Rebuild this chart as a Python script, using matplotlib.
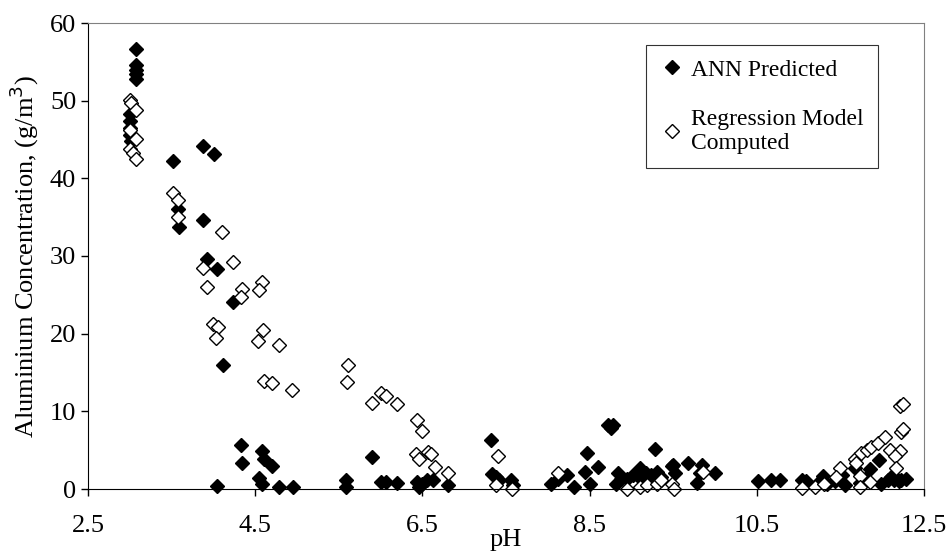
import numpy as np
import matplotlib
matplotlib.use("Agg")
import matplotlib.pyplot as plt

# ANN predicted (filled diamonds)
ann_ph = [3.08, 3.08, 3.08, 3.08, 3.08, 3.0, 3.0, 3.0, 3.0, 3.02,
          3.52, 3.87, 4.01, 3.58, 3.59, 3.87, 3.92, 4.04, 4.23, 4.11,
          4.33, 4.58, 4.34, 4.60, 4.70, 4.04, 4.55, 4.58, 4.78, 4.95,
          5.59, 5.59, 5.90, 6.01, 6.06, 6.20, 6.44, 6.46, 6.49, 6.56, 6.63, 6.81,
          7.32, 7.33, 7.38, 7.42, 7.56, 7.58,
          8.04, 8.12, 8.23, 8.31, 8.44, 8.47, 8.51, 8.60, 8.72, 8.78, 8.75,
          8.81, 8.84, 8.88, 8.95, 9.02, 9.10, 9.13, 9.10, 9.17, 9.24, 9.28, 9.31, 9.35,
          9.49, 9.52, 9.50, 9.68, 9.78, 9.82, 9.84, 10.0,
          10.52, 10.67, 10.78, 11.04, 11.09, 11.25, 11.29, 11.34, 11.44, 11.52, 11.56,
          11.67, 11.73, 11.80, 11.85, 11.96, 11.98,
          12.07, 12.10, 12.14, 12.17, 12.23, 12.29, 12.20]
ann_al = [56.6, 54.6, 54.0, 53.4, 52.8, 48.3, 47.4, 46.5, 45.6, 44.8,
          42.2, 44.1, 43.1, 36.0, 33.7, 34.6, 29.6, 28.3, 24.1, 16.0,
          5.7, 4.9, 3.3, 3.8, 3.0, 0.4, 1.4, 0.7, 0.3, 0.3,
          1.2, 0.3, 4.1, 0.9, 0.9, 0.8, 0.9, 0.3, 0.6, 1.1, 1.1, 0.5,
          6.3, 1.9, 1.5, 1.2, 1.2, 0.5,
          0.7, 1.3, 1.8, 0.2, 2.2, 4.6, 0.7, 2.8, 8.3, 8.2, 7.8,
          0.7, 2.0, 1.3, 1.3, 1.8, 2.2, 1.1, 2.7, 2.0, 1.8, 5.2, 2.2, 1.6,
          2.9, 2.0, 3.1, 3.3, 0.8, 2.0, 3.1, 2.0,
          1.0, 1.1, 1.1, 1.2, 1.0, 1.0, 1.7, 0.7, 1.0, 1.8, 0.5,
          2.7, 0.8, 1.3, 2.6, 3.7, 0.7,
          1.2, 1.5, 1.2, 1.4, 1.2, 1.3, 1.0]

# Regression model computed (open diamonds)
reg_ph = [3.0, 3.02, 3.08, 3.0, 3.08, 3.0, 3.04, 3.08,
          3.52, 3.58, 3.58, 4.10, 3.87, 4.23, 3.92, 4.34, 4.33, 4.58, 4.55,
          4.00, 4.05, 4.03, 4.59, 4.53, 4.79, 4.60, 4.70, 4.94,
          5.61, 5.60, 6.00, 6.06, 5.90, 6.20, 6.44, 6.50,
          6.42, 6.46, 6.57, 6.60, 6.65, 6.81,
          7.40, 7.38, 7.57, 8.12, 8.95, 9.10, 9.19, 9.31, 9.35, 9.49, 9.51, 9.86,
          11.04, 11.20, 11.30, 11.49, 11.45, 11.67, 11.69, 11.74, 11.74, 11.85,
          11.75, 11.82, 11.87, 11.95, 12.03, 12.09, 12.21, 12.15, 12.16,
          12.23, 12.25, 12.21, 12.25]
reg_al = [50.1, 49.7, 48.8, 46.2, 45.1, 43.8, 43.2, 42.5,
          38.1, 37.2, 35.0, 33.1, 28.5, 29.2, 26.0, 25.7, 24.7, 26.7, 25.6,
          21.3, 20.9, 19.5, 20.5, 19.0, 18.6, 13.9, 13.6, 12.7,
          16.0, 13.8, 12.4, 12.0, 11.1, 10.9, 8.9, 7.5,
          4.5, 3.9, 4.8, 4.5, 2.8, 2.0,
          4.3, 0.5, 0.0, 2.0, 0.0, 0.3, 0.5, 0.7, 1.1, 0.7, 0.0, 2.2,
          0.1, 0.3, 0.7, 2.7, 1.6, 3.9, 3.3, 1.7, 0.3, 0.9,
          4.6, 5.0, 5.4, 5.9, 6.7, 5.0, 4.9, 4.2, 2.7,
          7.4, 7.7, 10.7, 11.0]

x_ticks = [2.5, 4.5, 6.5, 8.5, 10.5, 12.5]
y_ticks = [0, 10, 20, 30, 40, 50, 60]

plt.rcParams['font.family'] = ['Liberation Serif', 'DejaVu Serif']

fig = plt.figure(figsize=(9.5, 5.54), dpi=100)
ax = fig.add_axes([88 / 950, 1 - 489 / 554, (924 - 88) / 950, (489 - 23) / 554])

ax.plot(ann_ph, ann_al, 'D', color='black', markersize=7, linestyle='none',
        label='ANN Predicted', clip_on=False)
ax.plot(reg_ph, reg_al, 'D', markerfacecolor='white', markeredgecolor='black',
        markeredgewidth=1.0, markersize=7, linestyle='none',
        label='Regression Model\nComputed', clip_on=False)

ax.set_xlim(2.5, 12.5)
ax.set_ylim(0, 60)
ax.set_xticks(x_ticks)
ax.set_xticklabels([str(t) for t in x_ticks])
ax.set_yticks(y_ticks)
ax.tick_params(direction='out', length=5, width=1, labelsize=19, colors='black')
ax.tick_params(axis='x', pad=14)

for s in ['top', 'right']:
    ax.spines[s].set_color('#808080')
for s in ['left', 'bottom']:
    ax.spines[s].set_color('black')

ax.set_xlabel('pH', fontsize=19, labelpad=-6)
ax.set_ylabel('Aluminium Concentration, (g/m$^3$)', fontsize=19, labelpad=6)

leg = ax.legend(loc='upper right', bbox_to_anchor=(878 / 950, 1 - 45 / 554),
                bbox_transform=fig.transFigure, fontsize=17, frameon=True,
                fancybox=False, edgecolor='black', handletextpad=0.3,
                labelspacing=1.2, borderpad=0.6, handlelength=1.0,
                borderaxespad=0)
leg.get_frame().set_linewidth(0.8)

plt.savefig('out.png', dpi=100)
